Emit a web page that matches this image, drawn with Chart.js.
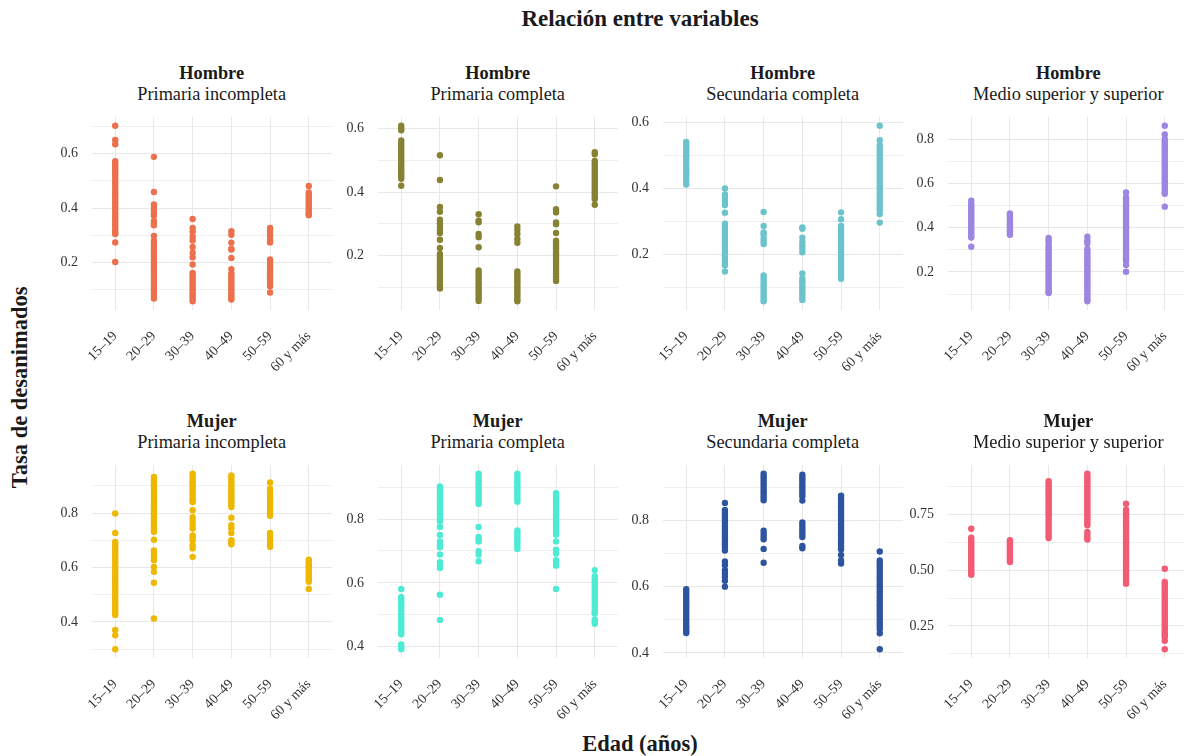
<!DOCTYPE html>
<html lang="es">
<head>
<meta charset="utf-8">
<title>Relación entre variables</title>
<script src="https://cdn.jsdelivr.net/npm/chart.js@4.4.1/dist/chart.umd.min.js"></script>
<style>
  html, body { margin: 0; padding: 0; background: #fff; overflow: hidden; }
  #page { position: relative; width: 1184px; height: 756px; overflow: hidden;
          font-family: 'Liberation Serif', 'Times New Roman', serif; color: #1a1a1a; }
  .lbl { position: absolute; white-space: nowrap; text-align: center; line-height: 1; }
  .strip-sex { font-size: 18.3px; font-weight: bold; width: 300px; }
  .strip-edu { font-size: 18.3px; width: 300px; }
  canvas { position: absolute; }
</style>
</head>
<body>
<div id="page">
  <div class="lbl" id="title" style="font-size:23px;font-weight:bold;width:400px;left:440px;top:7.4px;">Relación entre variables</div>
  <div class="lbl" id="xtitle" style="font-size:22.5px;font-weight:bold;width:400px;left:440px;top:732.5px;">Edad (años)</div>
  <div class="lbl" id="ytitle" style="font-size:22.5px;font-weight:bold;width:300px;left:-130px;top:376.2px;transform:rotate(-90deg);">Tasa de desanimados</div>
</div>
<script>
// Grupos de edad (eje x de cada panel)
const ageGroups = ['15–19', '20–29', '30–39', '40–49', '50–59', '60 y más'];
const sexes = ['Hombre', 'Mujer'];
const schooling = ['Primaria incompleta', 'Primaria completa', 'Secundaria completa', 'Medio superior y superior'];

// Tasa de desanimados: una lista de observaciones por grupo de edad
const hombrePrimariaIncompleta = [
  [0.702, 0.650, 0.634, 0.572, 0.565, 0.556, 0.547, 0.538, 0.528, 0.519, 0.508, 0.497, 0.489, 0.478, 0.466, 0.455, 0.447, 0.436, 0.424, 0.415, 0.404, 0.393, 0.382, 0.371, 0.362, 0.351, 0.340, 0.331, 0.320, 0.311, 0.305, 0.274, 0.202],
  [0.588, 0.459, 0.413, 0.404, 0.392, 0.380, 0.372, 0.353, 0.344, 0.337, 0.298, 0.280, 0.270, 0.261, 0.250, 0.241, 0.230, 0.221, 0.210, 0.199, 0.190, 0.179, 0.168, 0.158, 0.147, 0.137, 0.126, 0.116, 0.105, 0.096, 0.086, 0.077, 0.068],
  [0.360, 0.327, 0.313, 0.295, 0.281, 0.257, 0.236, 0.219, 0.193, 0.162, 0.153, 0.144, 0.136, 0.127, 0.118, 0.109, 0.100, 0.092, 0.083, 0.075, 0.066, 0.058],
  [0.315, 0.302, 0.273, 0.250, 0.248, 0.217, 0.176, 0.160, 0.151, 0.142, 0.133, 0.124, 0.115, 0.106, 0.097, 0.088, 0.079, 0.071, 0.064],
  [0.327, 0.318, 0.306, 0.297, 0.283, 0.274, 0.211, 0.202, 0.193, 0.184, 0.175, 0.166, 0.157, 0.148, 0.139, 0.130, 0.121, 0.113, 0.090],
  [0.481, 0.457, 0.449, 0.441, 0.433, 0.425, 0.417, 0.409, 0.401, 0.393, 0.385, 0.377, 0.374]
];
const hombrePrimariaCompleta = [
  [0.609, 0.602, 0.595, 0.563, 0.555, 0.546, 0.538, 0.529, 0.521, 0.513, 0.505, 0.497, 0.489, 0.481, 0.473, 0.465, 0.457, 0.449, 0.442, 0.420],
  [0.516, 0.438, 0.353, 0.338, 0.313, 0.302, 0.290, 0.280, 0.271, 0.250, 0.224, 0.205, 0.197, 0.189, 0.180, 0.171, 0.162, 0.154, 0.145, 0.136, 0.128, 0.119, 0.111, 0.103, 0.096],
  [0.330, 0.310, 0.305, 0.268, 0.258, 0.226, 0.153, 0.145, 0.137, 0.129, 0.121, 0.113, 0.105, 0.097, 0.089, 0.081, 0.073, 0.065, 0.057],
  [0.292, 0.281, 0.268, 0.252, 0.240, 0.150, 0.142, 0.134, 0.126, 0.118, 0.110, 0.102, 0.094, 0.086, 0.078, 0.070, 0.062, 0.056],
  [0.418, 0.346, 0.336, 0.304, 0.299, 0.271, 0.247, 0.239, 0.231, 0.223, 0.215, 0.207, 0.199, 0.191, 0.183, 0.175, 0.167, 0.159, 0.151, 0.143, 0.135, 0.127, 0.120],
  [0.526, 0.519, 0.498, 0.490, 0.482, 0.474, 0.466, 0.458, 0.450, 0.442, 0.434, 0.426, 0.418, 0.410, 0.402, 0.394, 0.386, 0.378, 0.360]
];
const hombreSecundariaCompleta = [
  [0.541, 0.533, 0.525, 0.517, 0.509, 0.501, 0.493, 0.485, 0.477, 0.469, 0.461, 0.453, 0.445, 0.437, 0.429, 0.421, 0.412],
  [0.400, 0.382, 0.372, 0.361, 0.350, 0.327, 0.294, 0.286, 0.278, 0.270, 0.262, 0.254, 0.246, 0.238, 0.230, 0.222, 0.214, 0.206, 0.198, 0.190, 0.182, 0.175, 0.168, 0.149],
  [0.329, 0.287, 0.267, 0.260, 0.248, 0.240, 0.232, 0.137, 0.129, 0.121, 0.113, 0.105, 0.097, 0.089, 0.081, 0.073, 0.066, 0.059],
  [0.282, 0.278, 0.251, 0.238, 0.228, 0.218, 0.207, 0.143, 0.127, 0.119, 0.111, 0.103, 0.095, 0.087, 0.079, 0.071, 0.063],
  [0.328, 0.307, 0.287, 0.279, 0.271, 0.263, 0.255, 0.247, 0.239, 0.231, 0.223, 0.215, 0.207, 0.199, 0.191, 0.183, 0.175, 0.167, 0.159, 0.151, 0.143, 0.135, 0.127],
  [0.590, 0.546, 0.531, 0.522, 0.513, 0.504, 0.495, 0.486, 0.477, 0.468, 0.459, 0.450, 0.441, 0.432, 0.423, 0.414, 0.405, 0.396, 0.387, 0.378, 0.369, 0.360, 0.351, 0.342, 0.336, 0.323, 0.297]
];
const hombreMedioSuperior = [
  [0.522, 0.507, 0.499, 0.490, 0.481, 0.472, 0.463, 0.454, 0.445, 0.436, 0.427, 0.418, 0.409, 0.400, 0.391, 0.382, 0.373, 0.364, 0.356, 0.314],
  [0.464, 0.456, 0.448, 0.440, 0.432, 0.424, 0.416, 0.408, 0.400, 0.392, 0.384, 0.376, 0.368],
  [0.354, 0.344, 0.334, 0.319, 0.309, 0.299, 0.289, 0.279, 0.269, 0.259, 0.249, 0.239, 0.229, 0.219, 0.209, 0.199, 0.189, 0.179, 0.169, 0.159, 0.149, 0.139, 0.129, 0.119, 0.110, 0.105],
  [0.359, 0.342, 0.330, 0.304, 0.294, 0.284, 0.274, 0.264, 0.254, 0.244, 0.234, 0.224, 0.214, 0.204, 0.194, 0.184, 0.174, 0.164, 0.154, 0.144, 0.134, 0.124, 0.114, 0.104, 0.094, 0.084, 0.075, 0.068],
  [0.559, 0.537, 0.527, 0.517, 0.507, 0.497, 0.487, 0.477, 0.467, 0.457, 0.447, 0.437, 0.427, 0.417, 0.407, 0.397, 0.387, 0.377, 0.367, 0.357, 0.347, 0.337, 0.327, 0.317, 0.307, 0.297, 0.287, 0.277, 0.267, 0.258, 0.251, 0.232, 0.201],
  [0.860, 0.821, 0.800, 0.790, 0.780, 0.770, 0.760, 0.750, 0.740, 0.730, 0.720, 0.710, 0.700, 0.690, 0.680, 0.670, 0.660, 0.650, 0.640, 0.630, 0.620, 0.610, 0.600, 0.590, 0.580, 0.570, 0.560, 0.553, 0.495]
];
const mujerPrimariaIncompleta = [
  [0.798, 0.727, 0.694, 0.684, 0.674, 0.664, 0.654, 0.644, 0.634, 0.624, 0.614, 0.604, 0.594, 0.584, 0.574, 0.564, 0.554, 0.544, 0.534, 0.524, 0.514, 0.504, 0.494, 0.484, 0.474, 0.464, 0.454, 0.444, 0.435, 0.426, 0.371, 0.351, 0.300],
  [0.932, 0.922, 0.912, 0.902, 0.892, 0.882, 0.872, 0.862, 0.852, 0.842, 0.832, 0.822, 0.812, 0.802, 0.792, 0.782, 0.772, 0.762, 0.752, 0.742, 0.731, 0.702, 0.663, 0.651, 0.639, 0.627, 0.602, 0.584, 0.544, 0.413],
  [0.944, 0.935, 0.926, 0.917, 0.908, 0.899, 0.890, 0.881, 0.872, 0.863, 0.854, 0.845, 0.840, 0.810, 0.785, 0.772, 0.757, 0.743, 0.718, 0.708, 0.700, 0.682, 0.670, 0.639],
  [0.938, 0.929, 0.920, 0.911, 0.902, 0.893, 0.884, 0.875, 0.866, 0.857, 0.848, 0.839, 0.830, 0.822, 0.783, 0.755, 0.743, 0.727, 0.700, 0.692, 0.685],
  [0.912, 0.889, 0.880, 0.871, 0.862, 0.853, 0.844, 0.835, 0.826, 0.817, 0.808, 0.799, 0.790, 0.727, 0.717, 0.707, 0.697, 0.686, 0.676],
  [0.629, 0.621, 0.613, 0.605, 0.597, 0.589, 0.581, 0.573, 0.565, 0.557, 0.548, 0.521]
];
const mujerPrimariaCompleta = [
  [0.581, 0.556, 0.548, 0.540, 0.532, 0.524, 0.516, 0.508, 0.500, 0.492, 0.484, 0.476, 0.468, 0.460, 0.452, 0.445, 0.439, 0.407, 0.400, 0.392],
  [0.902, 0.894, 0.886, 0.878, 0.870, 0.862, 0.854, 0.846, 0.838, 0.830, 0.822, 0.814, 0.806, 0.799, 0.793, 0.775, 0.750, 0.730, 0.720, 0.712, 0.689, 0.665, 0.654, 0.647, 0.563, 0.484],
  [0.942, 0.934, 0.926, 0.918, 0.910, 0.902, 0.894, 0.886, 0.878, 0.870, 0.862, 0.854, 0.847, 0.775, 0.744, 0.736, 0.730, 0.699, 0.689, 0.668],
  [0.942, 0.934, 0.926, 0.918, 0.910, 0.902, 0.894, 0.886, 0.878, 0.870, 0.862, 0.854, 0.764, 0.756, 0.748, 0.740, 0.732, 0.724, 0.715, 0.706],
  [0.881, 0.873, 0.865, 0.857, 0.849, 0.841, 0.833, 0.825, 0.817, 0.809, 0.801, 0.793, 0.785, 0.777, 0.769, 0.761, 0.751, 0.730, 0.704, 0.692, 0.671, 0.662, 0.654, 0.581],
  [0.640, 0.621, 0.613, 0.605, 0.597, 0.589, 0.581, 0.573, 0.565, 0.557, 0.549, 0.541, 0.533, 0.525, 0.517, 0.509, 0.504, 0.485, 0.478, 0.472]
];
const mujerSecundariaCompleta = [
  [0.592, 0.584, 0.576, 0.568, 0.560, 0.552, 0.544, 0.536, 0.528, 0.520, 0.512, 0.504, 0.496, 0.488, 0.480, 0.472, 0.465, 0.460],
  [0.853, 0.832, 0.824, 0.816, 0.808, 0.800, 0.792, 0.784, 0.776, 0.768, 0.760, 0.752, 0.744, 0.736, 0.728, 0.720, 0.709, 0.676, 0.665, 0.650, 0.640, 0.630, 0.618, 0.600],
  [0.941, 0.933, 0.925, 0.917, 0.909, 0.901, 0.893, 0.885, 0.877, 0.869, 0.861, 0.769, 0.760, 0.751, 0.743, 0.714, 0.672],
  [0.938, 0.930, 0.922, 0.914, 0.906, 0.898, 0.890, 0.882, 0.873, 0.860, 0.794, 0.785, 0.776, 0.767, 0.758, 0.750, 0.723, 0.716],
  [0.875, 0.867, 0.859, 0.851, 0.843, 0.835, 0.827, 0.819, 0.811, 0.803, 0.795, 0.787, 0.779, 0.771, 0.763, 0.755, 0.747, 0.739, 0.731, 0.723, 0.713, 0.696, 0.679, 0.670],
  [0.706, 0.679, 0.671, 0.663, 0.655, 0.647, 0.639, 0.631, 0.623, 0.615, 0.607, 0.599, 0.591, 0.583, 0.575, 0.567, 0.559, 0.551, 0.543, 0.535, 0.527, 0.519, 0.511, 0.503, 0.495, 0.487, 0.479, 0.471, 0.459, 0.411]
];
const mujerMedioSuperior = [
  [0.687, 0.647, 0.638, 0.629, 0.620, 0.611, 0.602, 0.593, 0.584, 0.575, 0.566, 0.557, 0.548, 0.539, 0.530, 0.521, 0.512, 0.503, 0.494, 0.486, 0.480],
  [0.635, 0.626, 0.617, 0.608, 0.599, 0.590, 0.581, 0.572, 0.563, 0.554, 0.545, 0.537],
  [0.901, 0.891, 0.881, 0.871, 0.861, 0.851, 0.841, 0.831, 0.821, 0.811, 0.801, 0.791, 0.781, 0.771, 0.761, 0.751, 0.741, 0.728, 0.716, 0.704, 0.692, 0.680, 0.668, 0.656, 0.645],
  [0.934, 0.924, 0.914, 0.904, 0.894, 0.884, 0.874, 0.864, 0.854, 0.844, 0.834, 0.824, 0.814, 0.804, 0.794, 0.784, 0.774, 0.764, 0.754, 0.744, 0.734, 0.724, 0.713, 0.702, 0.672, 0.660, 0.648, 0.638],
  [0.799, 0.772, 0.762, 0.752, 0.742, 0.732, 0.722, 0.712, 0.702, 0.692, 0.682, 0.672, 0.662, 0.652, 0.642, 0.632, 0.622, 0.612, 0.602, 0.592, 0.582, 0.572, 0.562, 0.552, 0.542, 0.532, 0.522, 0.512, 0.502, 0.492, 0.482, 0.472, 0.462, 0.452, 0.440],
  [0.507, 0.447, 0.437, 0.427, 0.417, 0.407, 0.397, 0.387, 0.377, 0.367, 0.357, 0.347, 0.337, 0.327, 0.317, 0.307, 0.297, 0.287, 0.277, 0.267, 0.257, 0.247, 0.237, 0.227, 0.217, 0.208, 0.200, 0.183, 0.145]
];

// Cortes principales del eje y de cada panel
const yBreaksHombre = [[0.2, 0.4, 0.6], [0.2, 0.4, 0.6], [0.2, 0.4, 0.6], [0.2, 0.4, 0.6, 0.8]];
const yBreaksMujer = [[0.4, 0.6, 0.8], [0.4, 0.6, 0.8], [0.4, 0.6, 0.8], [0.25, 0.5, 0.75]];

const panelColors = ['#EC704C', '#878233', '#6CC3CB', '#9D86E2',
                     '#EEB700', '#4DEBD6', '#2D559F', '#F35B74'];

const panels = [
  { sex: sexes[0], edu: schooling[0], values: hombrePrimariaIncompleta, breaks: yBreaksHombre[0] },
  { sex: sexes[0], edu: schooling[1], values: hombrePrimariaCompleta,   breaks: yBreaksHombre[1] },
  { sex: sexes[0], edu: schooling[2], values: hombreSecundariaCompleta, breaks: yBreaksHombre[2] },
  { sex: sexes[0], edu: schooling[3], values: hombreMedioSuperior,      breaks: yBreaksHombre[3] },
  { sex: sexes[1], edu: schooling[0], values: mujerPrimariaIncompleta,  breaks: yBreaksMujer[0] },
  { sex: sexes[1], edu: schooling[1], values: mujerPrimariaCompleta,    breaks: yBreaksMujer[1] },
  { sex: sexes[1], edu: schooling[2], values: mujerSecundariaCompleta,  breaks: yBreaksMujer[2] },
  { sex: sexes[1], edu: schooling[3], values: mujerMedioSuperior,       breaks: yBreaksMujer[3] }
].map((p, k) => Object.assign(p, { color: panelColors[k] }));

// Panel geometry (plot-area corners in page pixels)
const COL_LEFT = [91.7, 377.7, 662.7, 948.3];
const ROW_TOP = [116.7, 465];
const PLOT_W = 240, PLOT_H = 193;
const Y_AXIS_W = 60, X_AXIS_H = 78, PAD = 4;
const GRID = '#e8e8e8';
const FONT = "'Liberation Serif', 'Times New Roman', serif";
const TICK_COLOR = '#333333';

const page = document.getElementById('page');

function decimalsOf(list) {
  return Math.max(...list.map(v => (String(v).split('.')[1] || '').length));
}

function addLabel(cls, text, cx, top) {
  const d = document.createElement('div');
  d.className = 'lbl ' + cls;
  d.textContent = text;
  d.style.left = (cx - 150) + 'px';
  d.style.top = top + 'px';
  page.appendChild(d);
}

panels.forEach((p, k) => {
  const row = Math.floor(k / 4), col = k % 4;
  const left = COL_LEFT[col], top = ROW_TOP[row];
  const cx = left + PLOT_W / 2;

  addLabel('strip-sex', p.sex, cx, top - 53.1);
  addLabel('strip-edu', p.edu, cx, top - 32.1);

  const canvas = document.createElement('canvas');
  canvas.width = Y_AXIS_W + PLOT_W + PAD;
  canvas.height = PAD + PLOT_H + X_AXIS_H;
  canvas.style.left = (left - Y_AXIS_W) + 'px';
  canvas.style.top = (top - PAD) + 'px';
  page.appendChild(canvas);

  // y range: data extent with 5% expansion on each side
  const all = p.values.flat();
  const lo = Math.min(...all), hi = Math.max(...all), span = hi - lo;
  const yMin = lo - 0.05 * span, yMax = hi + 0.05 * span;

  const majors = p.breaks;
  const step = majors[1] - majors[0];
  const minors = [majors[0] - step / 2, ...majors.map(m => m + step / 2)];
  const gridVals = [...majors, ...minors].filter(v => v >= yMin && v <= yMax).sort((a, b) => a - b);
  const dec = decimalsOf(majors);
  const isMajor = v => majors.some(m => Math.abs(m - v) < 1e-9);

  const points = [];
  p.values.forEach((vals, i) => vals.forEach(v => points.push({ x: i, y: v })));

  new Chart(canvas, {
    type: 'scatter',
    data: {
      datasets: [{
        data: points,
        backgroundColor: p.color,
        borderWidth: 0,
        pointRadius: 3.2,
        pointHoverRadius: 3.2
      }]
    },
    options: {
      responsive: false,
      animation: false,
      devicePixelRatio: 1,
      events: [],
      layout: { padding: { top: PAD, right: PAD, left: 0, bottom: 0 } },
      plugins: { legend: { display: false }, tooltip: { enabled: false } },
      scales: {
        x: {
          type: 'linear',
          min: -0.6,
          max: ageGroups.length - 1 + 0.6,
          afterBuildTicks: s => { s.ticks = ageGroups.map((_, i) => ({ value: i })); },
          afterFit: s => { s.height = X_AXIS_H; s.paddingLeft = 0; s.paddingRight = 0; },
          grid: { color: GRID, lineWidth: 1, drawTicks: false },
          border: { display: false },
          ticks: {
            autoSkip: false, minRotation: 45, maxRotation: 45, padding: 18,
            color: TICK_COLOR, font: { family: FONT, size: 14 },
            callback: v => ageGroups[v]
          }
        },
        y: {
          type: 'linear',
          min: yMin,
          max: yMax,
          afterBuildTicks: s => { s.ticks = gridVals.map(v => ({ value: v })); },
          afterFit: s => { s.width = Y_AXIS_W; s.paddingTop = 0; s.paddingBottom = 0; },
          grid: {
            color: GRID,
            lineWidth: ctx => (ctx.tick && isMajor(ctx.tick.value)) ? 1 : 0.7,
            drawTicks: false
          },
          border: { display: false },
          ticks: {
            padding: 14, color: TICK_COLOR, font: { family: FONT, size: 14 },
            callback: v => isMajor(v) ? v.toFixed(dec) : ''
          }
        }
      }
    }
  });
});
</script>
</body>
</html>
